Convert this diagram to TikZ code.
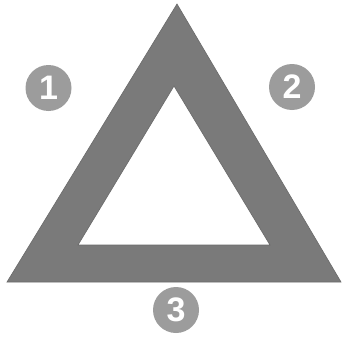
\documentclass[tikz,border=0pt]{standalone}
\usepackage{fontspec}
\setmainfont{Liberation Sans}
\definecolor{trigray}{HTML}{7A7A7A}
\definecolor{trigedge}{HTML}{6A6A6A}
\definecolor{circgray}{HTML}{9C9C9C}
\begin{document}
\begin{tikzpicture}[x=1pt,y=-1pt,
  badge/.style={circle,fill=circgray,minimum size=46pt,inner sep=0pt,text=white,font=\fontsize{34}{34}\selectfont\bfseries}]
\useasboundingbox (0,0) rectangle (341,348);
\fill[white] (0,0) rectangle (341,348);
\filldraw[fill=trigray,draw=trigedge,line width=0.6pt,even odd rule]
  (177,4) -- (341,282) -- (7,282) -- cycle
  (174,86) -- (270,245) -- (78,245) -- cycle;
\node[badge] (n1) at (48.5,88) {1};
\node[badge] (n2) at (292,87) {2};
\node[badge] (n3) at (176,310) {3};
\end{tikzpicture}
\end{document}
